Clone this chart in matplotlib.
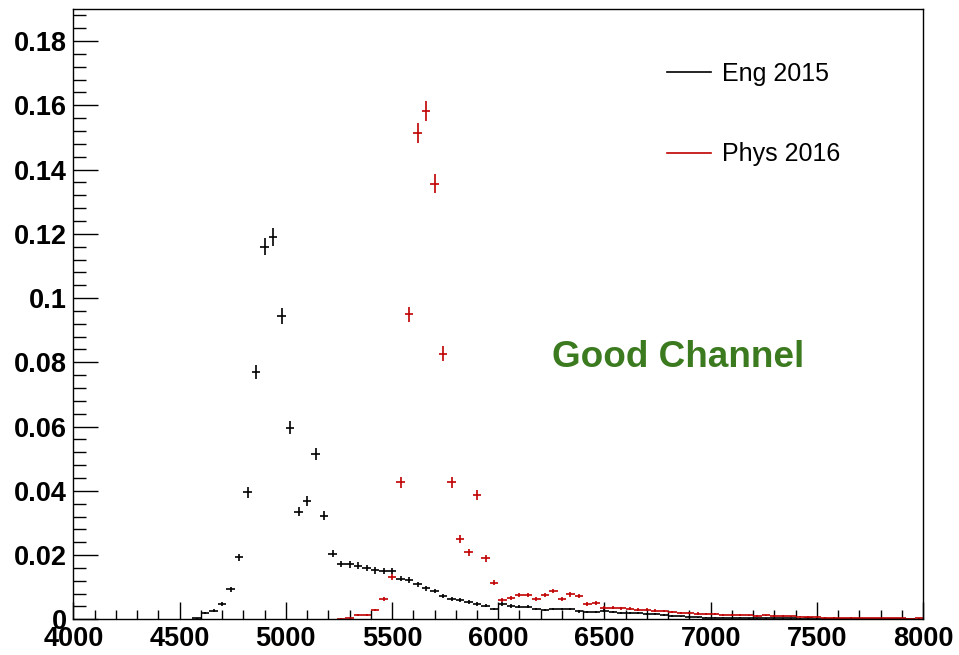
import numpy as np
import matplotlib
matplotlib.use('Agg')
import matplotlib.pyplot as plt
from matplotlib.lines import Line2D
from matplotlib.ticker import MultipleLocator, FuncFormatter

plt.rcParams['font.family'] = ['Liberation Sans', 'DejaVu Sans']

# histogram binning: 100 bins of 40 between 4000 and 8000
bin_width = 40
x_min, x_max = 4000, 8000

# Eng 2015 (black), bin contents starting at bin centre 4580
eng_first = 4580
eng_vals = [
    0.0003, 0.0019, 0.0027, 0.0047, 0.0093, 0.0193, 0.0395, 0.0770, 0.1160, 0.1190,
    0.0944, 0.0597, 0.0335, 0.0368, 0.0515, 0.0323, 0.0204, 0.0172, 0.0171, 0.0167,
    0.0159, 0.0152, 0.0151, 0.0150, 0.0127, 0.0122, 0.0109, 0.0096, 0.0088, 0.0073,
    0.0063, 0.0060, 0.0053, 0.0048, 0.0042, 0.0032, 0.0047, 0.0041, 0.0039, 0.0039,
    0.0032, 0.0029, 0.0032, 0.0032, 0.0032, 0.0025, 0.0022, 0.0022, 0.0027, 0.0022,
    0.0020, 0.0020, 0.0019, 0.0016, 0.0015, 0.0013, 0.0010, 0.0009, 0.0008, 0.0006,
    0.0005, 0.0005, 0.0005, 0.0004, 0.0005, 0.0004, 0.0004, 0.0003, 0.0004, 0.0003,
    0.0003, 0.0002, 0.0003, 0.0002, 0.0002, 0.0002, 0.0001, 0.0002, 0.0001, 0.0001,
    0.0001, 0.0001, 0.0001, 0.0001, 0.0001, 0.0000,
]

# Phys 2016 (red), bin contents starting at bin centre 5260
phys_first = 5260
phys_vals = [
    0.0002, 0.0003, 0.0013, 0.0013, 0.0029, 0.0063, 0.0131, 0.0426, 0.0949, 0.1514,
    0.1582, 0.1356, 0.0827, 0.0426, 0.0250, 0.0208, 0.0387, 0.0190, 0.0114, 0.0060,
    0.0065, 0.0076, 0.0076, 0.0062, 0.0076, 0.0088, 0.0063, 0.0078, 0.0073, 0.0048,
    0.0050, 0.0036, 0.0036, 0.0035, 0.0033, 0.0030, 0.0030, 0.0027, 0.0026, 0.0022,
    0.0020, 0.0019, 0.0018, 0.0017, 0.0016, 0.0014, 0.0013, 0.0014, 0.0012, 0.0011,
    0.0012, 0.0010, 0.0011, 0.0009, 0.0008, 0.0007, 0.0006, 0.0005, 0.0005, 0.0004,
    0.0005, 0.0004, 0.0004, 0.0003, 0.0004, 0.0003, 0.0003, 0.0002, 0.0003,
]

series = [
    ('Eng 2015', eng_first, eng_vals, 'black'),
    ('Phys 2016', phys_first, phys_vals, '#c00000'),
]

fig = plt.figure(figsize=(9.59, 6.55), dpi=100)
ax = fig.add_axes([0.0766, 0.0545, 0.8859, 0.9318])

for label, first, vals, color in series:
    vals = np.array(vals)
    centres = first + bin_width * np.arange(len(vals))
    keep = vals > 0
    # poisson-like errors on the normalised contents
    yerr = 0.008 * np.sqrt(vals[keep])
    ax.errorbar(centres[keep], vals[keep], yerr=yerr, xerr=bin_width / 2,
                fmt='none', ecolor=color, elinewidth=1.2, capsize=0)

ax.set_xlim(x_min, x_max)
ax.set_ylim(0, 0.19)

ax.xaxis.set_major_locator(MultipleLocator(500))
ax.xaxis.set_minor_locator(MultipleLocator(100))
ax.yaxis.set_major_locator(MultipleLocator(0.02))
ax.yaxis.set_minor_locator(MultipleLocator(0.004))
ax.yaxis.set_major_formatter(FuncFormatter(lambda v, p: f'{v:.2f}'.rstrip('0').rstrip('.') if v else '0'))

ax.tick_params(axis='both', which='both', direction='in', width=1.0,
               top=False, right=False, labelsize=19.5)
ax.tick_params(axis='x', which='major', length=12.5, pad=5)
ax.tick_params(axis='x', which='minor', length=6.5)
ax.tick_params(axis='y', which='major', length=18, pad=5)
ax.tick_params(axis='y', which='minor', length=9.2)
for lab in ax.get_xticklabels() + ax.get_yticklabels():
    lab.set_fontweight('bold')
for sp in ax.spines.values():
    sp.set_linewidth(1.0)

handles = [Line2D([], [], color=c, lw=1.2) for _, _, _, c in series]
labels = [s[0] for s in series]
ax.legend(handles, labels, loc='upper left', bbox_to_anchor=(0.699, 0.913),
          frameon=False, fontsize=18, handlelength=1.75, handletextpad=0.45,
          labelspacing=2.25, borderpad=0, borderaxespad=0)

ax.text(6847, 0.0816, 'Good Channel', color='#3b7a1f', fontsize=26.6,
        fontweight='bold', ha='center', va='center')

fig.savefig('out.png', dpi=100)
